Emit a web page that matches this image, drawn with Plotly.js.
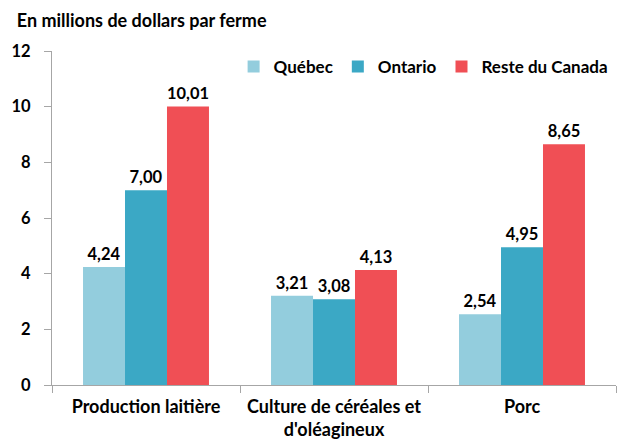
<!DOCTYPE html>
<html><head><meta charset="utf-8">
<script src="https://cdn.plot.ly/plotly-3.0.1.min.js"></script>
<style>html,body{margin:0;padding:0;background:#fff}</style>
</head><body>
<div id="chart" style="width:622px;height:441px"></div>
<script>
const categories = ["Production laitière", "Culture de céréales et<br>d'oléagineux", "Porc"];
const seriesNames = ["Québec", "Ontario", "Reste du Canada"];
const quebec = [4.24, 3.21, 2.54];
const ontario = [7.00, 3.08, 4.95];
const resteCanada = [10.01, 4.13, 8.65];
const yTicks = [0, 2, 4, 6, 8, 10, 12];
const colors = ["#93CDDD", "#3BA8C5", "#F04F55"];
const FONT = "Lato, 'Open Sans', sans-serif";

const values = [quebec, ontario, resteCanada];
const traces = values.map((v, i) => ({
  type: "bar",
  name: seriesNames[i],
  x: categories,
  y: v,
  marker: {color: colors[i]},
  texttemplate: "%{y:.2f}",
  textposition: "outside",
  textfont: {family: FONT, size: 16.5, color: "#000", weight: "bold"},
  cliponaxis: false,
  hoverinfo: "skip"
}));

const layout = {
  width: 622, height: 441,
  margin: {l: 52, r: 6, t: 51, b: 56},
  paper_bgcolor: "#fff", plot_bgcolor: "#fff",
  separators: ", ",
  font: {family: FONT, size: 16, color: "#000", weight: "bold"},
  title: {
    text: "En millions de dollars par ferme",
    font: {family: FONT, size: 18, color: "#000", weight: "bold"},
    xref: "container", yref: "container",
    x: 0.027, xanchor: "left", y: 0.952, yanchor: "middle"
  },
  barmode: "group",
  bargap: 0.33, bargroupgap: 0,
  xaxis: {
    showgrid: false, zeroline: false,
    showline: true, linecolor: "#A6A6A6", linewidth: 1,
    ticks: "outside", tickson: "boundaries", ticklen: 7, tickcolor: "#A6A6A6",
    tickfont: {family: FONT, size: 18, color: "#000", weight: "bold"},
    ticklabelstandoff: 5,
    automargin: false
  },
  yaxis: {
    range: [0, 12],
    tickvals: yTicks,
    showgrid: false, zeroline: false,
    showline: true, linecolor: "#A6A6A6", linewidth: 1,
    ticks: "outside", ticklen: 7, tickcolor: "#A6A6A6",
    tickfont: {family: FONT, size: 16.5, color: "#000", weight: "bold"},
    ticklabelstandoff: 10,
    automargin: false
  },
  legend: {
    orientation: "h",
    x: 0.322, xanchor: "left",
    y: 0.952, yanchor: "middle",
    font: {family: FONT, size: 17, color: "#000", weight: "bold"},
    bgcolor: "rgba(0,0,0,0)",
    itemwidth: 30
  },
  showlegend: true
};

Plotly.newPlot("chart", traces, layout, {displayModeBar: false, staticPlot: true});
</script>
</body></html>
